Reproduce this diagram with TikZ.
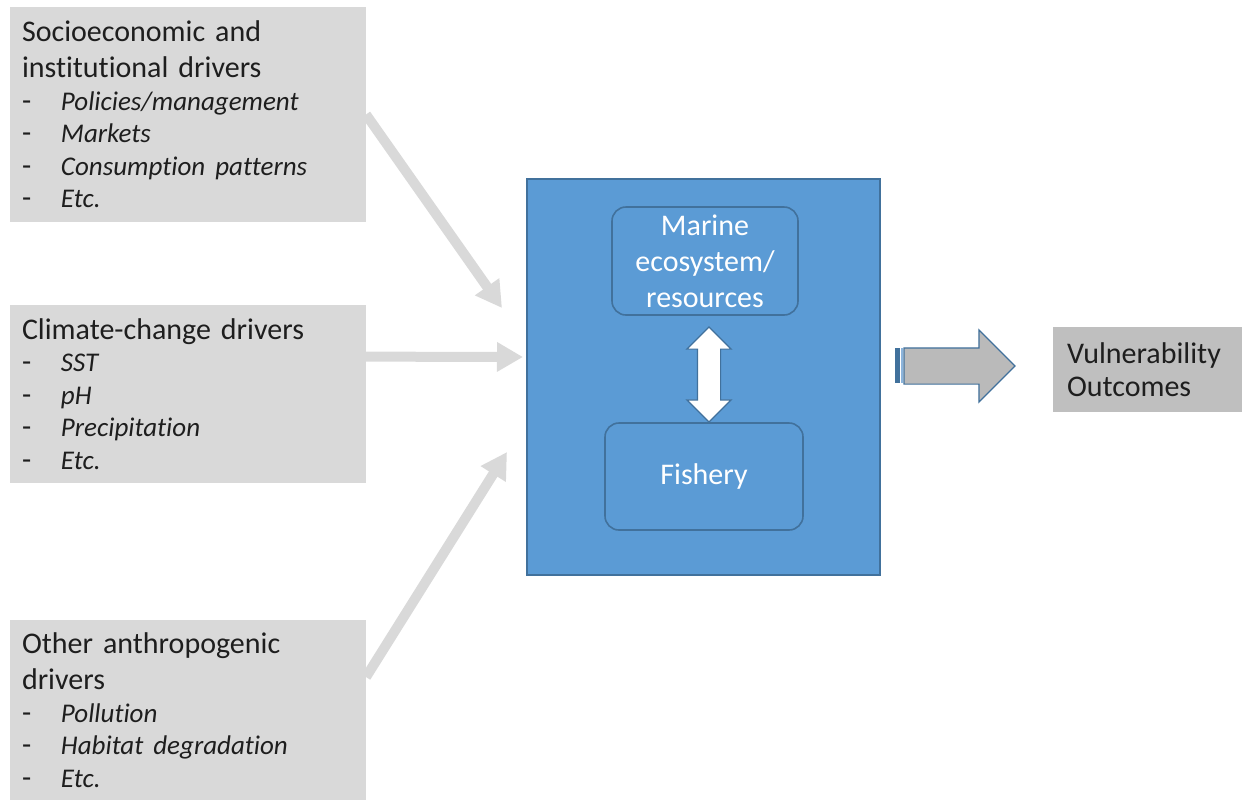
\documentclass[tikz,border=0pt]{standalone}
\usepackage{fontspec}
\setmainfont[Ligatures=NoCommon]{Carlito}
\definecolor{boxgray}{RGB}{217,217,217}
\definecolor{outgray}{RGB}{191,191,191}
\definecolor{arrowgray}{RGB}{186,186,186}
\definecolor{myblue}{RGB}{91,155,213}
\definecolor{darkblue}{RGB}{65,113,156}
\definecolor{lightblue}{RGB}{140,180,220}
\definecolor{textgray}{RGB}{30,30,30}
\usetikzlibrary{shapes.arrows,arrows.meta,calc}
\newcommand{\drv}[1]{\makebox[19.5pt][l]{-}{\fontsize{13.5pt}{16.25pt}\selectfont\itshape #1}}

\begin{document}
\begin{tikzpicture}[x=0.5pt,y=-0.5pt,
    every node/.style={inner sep=0pt,outer sep=0pt},
    driver/.style={fill=boxgray,anchor=north west,text width=166pt,inner xsep=6pt,
      align=left,text=textgray,font=\fontsize{15pt}{16.25pt}\selectfont},
    sysbox/.style={fill=myblue,draw=darkblue,line width=0.8pt,anchor=north west},
    inbox/.style={fill=myblue,draw=darkblue,line width=0.8pt,rounded corners=7pt,
      text=white,align=center,font=\fontsize{15pt}{18pt}\selectfont},
    outbox/.style={fill=outgray,anchor=north west,text width=90pt,inner xsep=7pt,
      align=left,text=textgray,font=\fontsize{15pt}{16.5pt}\selectfont},
    feed/.style={line width=5pt,draw=boxgray,-{Triangle[width=14pt,length=13pt]}}
    ]
    \useasboundingbox (0,0) rectangle (1242,799);

    % the drivers
    \node[driver,minimum height=107.5pt] (soc) at (10,7)
      {Socioeconomic and\\[1.75pt] institutional drivers\\ \drv{Policies/management}\\
       \drv{Markets}\\ \drv{Consumption patterns}\\ \drv{Etc.}};
    \node[driver,minimum height=89pt] (clim) at (10,305)
      {Climate-change drivers\\ \drv{SST}\\ \drv{pH}\\ \drv{Precipitation}\\ \drv{Etc.}};
    \node[driver,minimum height=90pt] (anth) at (10,620)
      {Other anthropogenic\\[1.75pt] drivers\\ \drv{Pollution}\\
       \drv{Habitat degradation}\\ \drv{Etc.}};

    % the system
    \node[sysbox,minimum width=176.5pt,minimum height=198pt] (sys) at (527,179) {};
    \node[inbox,minimum width=93pt,minimum height=54pt] (mar) at (705,261)
      {Marine\\ecosystem/\\resources};
    \node[inbox,minimum width=99pt,minimum height=53.5pt] (fish) at (704,476.5) {Fishery};
    \node[double arrow,fill=white,draw=darkblue,line width=0.6pt,rotate=90,
      inner ysep=5.5pt,minimum height=47.5pt,minimum width=21.5pt,
      double arrow head extend=5.25pt] (link) at (709,374.5) {};

    % the outcome
    \fill[darkblue] (895,348) rectangle (900,383);
    \fill[lightblue] (900.5,348) rectangle (903,383);
    \node[single arrow,fill=arrowgray,draw=darkblue,line width=0.6pt,anchor=tail,
      inner ysep=8.75pt,minimum height=55.5pt,minimum width=35.5pt,
      single arrow head extend=9pt] (out) at (904,366) {};
    \node[outbox,minimum height=42.5pt] (vul) at (1053,327) {Vulnerability\\Outcomes};

    % the arrows
    \coordinate (in1) at (502,308);
    \coordinate (in2) at (523,357);
    \coordinate (in3) at (507,452);
    \coordinate (t2) at ($(clim.north east)!0.29!(clim.south east)$);
    \coordinate (t3) at ($(anth.north east)!0.317!(anth.south east)$);
    \draw[feed] (soc.east) -- (in1);
    \draw[feed] (t2) -- (in2);
    \draw[feed] (t3) -- (in3);
\end{tikzpicture}
\end{document}
